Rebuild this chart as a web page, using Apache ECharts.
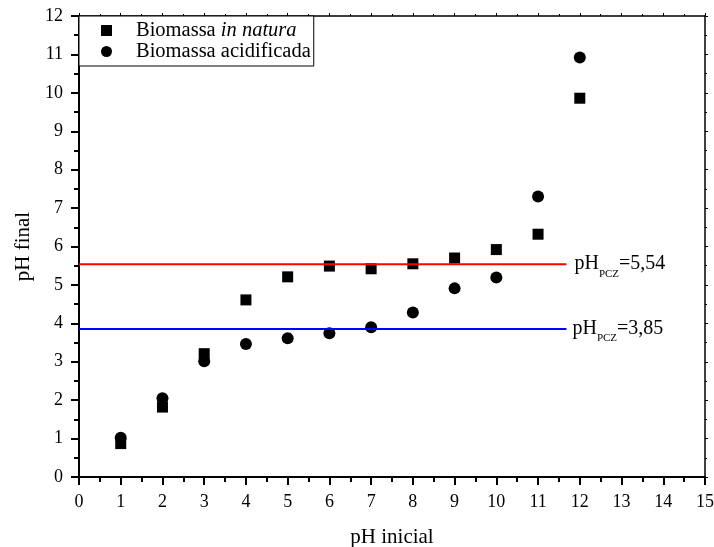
<!DOCTYPE html>
<html>
<head>
<meta charset="utf-8">
<script src="https://cdn.jsdelivr.net/npm/echarts@6/dist/echarts.min.js"></script>
<style>
  html, body { margin: 0; padding: 0; background: #fff; }
  #chart { width: 714px; height: 547px; }
</style>
</head>
<body>
<div id="chart"></div>
<script>
// Initial pH values tested
var phInicial = [1, 2, 3, 4, 5, 6, 7, 8, 9, 10, 11, 12];
// Final pH, raw biomass
var phFinalNatura = [0.87, 1.82, 3.21, 4.61, 5.21, 5.49, 5.42, 5.55, 5.70, 5.92, 6.32, 9.86];
// Final pH, acid-treated biomass
var phFinalAcidificada = [1.02, 2.05, 3.01, 3.46, 3.61, 3.74, 3.90, 4.28, 4.91, 5.19, 7.30, 10.92];
// Point of zero charge for each biomass
var pczNatura = 5.54;
var pczAcidificada = 3.85;
var pczLineEnd = 11.68;
var xTicks = { min: 0, max: 15, interval: 1 };
var yTicks = { min: 0, max: 12, interval: 1 };

var FONT = 'Liberation Serif';

function pairs(xs, ys) {
  return xs.map(function (x, i) { return [x, ys[i]]; });
}

function pczLabel(v) {
  return '{m|pH}{s|PCZ}{m|=' + v.toFixed(2).replace('.', ',') + '}';
}

var pczRich = {
  m: { fontFamily: FONT, fontSize: 20, color: '#000', lineHeight: 30, verticalAlign: 'middle' },
  s: { fontFamily: FONT, fontSize: 11, color: '#000', lineHeight: 15, verticalAlign: 'bottom' }
};

var chart = echarts.init(document.getElementById('chart'), null, { renderer: 'canvas' });

chart.setOption({
  animation: false,
  backgroundColor: '#fff',
  grid: { left: 79, right: 9, top: 16, bottom: 70, containLabel: false, outerBoundsMode: 'none' },
  legend: {
    orient: 'vertical',
    left: 79,
    top: 16,
    padding: [4, 3, 4, 22],
    itemGap: 0,
    itemWidth: 11,
    itemHeight: 11,
    borderColor: '#000',
    borderWidth: 1,
    backgroundColor: '#fff',
    data: ['Biomassa in natura', 'Biomassa acidificada'],
    formatter: function (name) {
      if (name === 'Biomassa in natura') return '{n|Biomassa }{i|in natura}';
      return '{n|' + name + '}';
    },
    textStyle: {
      padding: [0, 0, 0, 19],
      rich: {
        n: { fontFamily: FONT, fontSize: 20.5, color: '#000', lineHeight: 25 },
        i: { fontFamily: FONT, fontSize: 20.5, color: '#000', lineHeight: 25, fontStyle: 'italic' }
      }
    }
  },
  xAxis: [{
    type: 'value',
    position: 'bottom',
    min: xTicks.min, max: xTicks.max, interval: xTicks.interval,
    name: 'pH inicial',
    nameLocation: 'middle',
    nameGap: 50,
    nameTextStyle: { fontFamily: FONT, fontSize: 21, color: '#000' },
    axisLine: { show: true, onZero: false, lineStyle: { color: '#000', width: 2 } },
    axisTick: { show: true, inside: false, length: 8, lineStyle: { color: '#000', width: 2 } },
    minorTick: { show: true, splitNumber: 2, length: 5, lineStyle: { color: '#000', width: 2 } },
    axisLabel: { margin: 16, fontFamily: FONT, fontSize: 18, color: '#000' },
    splitLine: { show: false }
  }, {
    type: 'value',
    position: 'top',
    min: xTicks.min, max: xTicks.max, interval: xTicks.interval,
    axisLine: { show: true, onZero: false, lineStyle: { color: '#000', width: 1.5 } },
    axisTick: { show: true, inside: false, length: 3, lineStyle: { color: '#000', width: 1 } },
    minorTick: { show: true, splitNumber: 2, length: 2, lineStyle: { color: '#000', width: 1 } },
    axisLabel: { show: false },
    splitLine: { show: false }
  }],
  yAxis: [{
    type: 'value',
    position: 'left',
    min: yTicks.min, max: yTicks.max, interval: yTicks.interval,
    name: 'pH final',
    nameLocation: 'middle',
    nameGap: 38,
    nameTextStyle: { fontFamily: FONT, fontSize: 21, color: '#000' },
    axisLine: { show: true, onZero: false, lineStyle: { color: '#000', width: 2 } },
    axisTick: { show: true, inside: false, length: 8, lineStyle: { color: '#000', width: 2 } },
    minorTick: { show: true, splitNumber: 2, length: 5, lineStyle: { color: '#000', width: 2 } },
    axisLabel: { margin: 16, fontFamily: FONT, fontSize: 18, color: '#000' },
    splitLine: { show: false }
  }, {
    type: 'value',
    position: 'right',
    min: yTicks.min, max: yTicks.max, interval: yTicks.interval,
    axisLine: { show: true, onZero: false, lineStyle: { color: '#000', width: 1.5 } },
    axisTick: { show: true, inside: false, length: 3, lineStyle: { color: '#000', width: 1 } },
    minorTick: { show: true, splitNumber: 2, length: 2, lineStyle: { color: '#000', width: 1 } },
    axisLabel: { show: false },
    splitLine: { show: false }
  }],
  series: [{
    name: 'pcz-natura',
    type: 'line',
    data: [[0, pczNatura], [pczLineEnd, pczNatura]],
    showSymbol: false,
    symbol: 'none',
    lineStyle: { color: '#ff0000', width: 2 },
    silent: true,
    endLabel: { show: true, distance: 8, formatter: function () { return pczLabel(pczNatura); }, rich: pczRich }
  }, {
    name: 'pcz-acidificada',
    type: 'line',
    data: [[0, pczAcidificada], [pczLineEnd, pczAcidificada]],
    showSymbol: false,
    symbol: 'none',
    lineStyle: { color: '#0000ff', width: 2 },
    silent: true,
    endLabel: { show: true, distance: 6, formatter: function () { return pczLabel(pczAcidificada); }, rich: pczRich }
  }, {
    name: 'Biomassa in natura',
    type: 'scatter',
    symbol: 'rect',
    symbolSize: 11,
    itemStyle: { color: '#000', opacity: 1 },
    data: pairs(phInicial, phFinalNatura)
  }, {
    name: 'Biomassa acidificada',
    type: 'scatter',
    symbol: 'circle',
    symbolSize: 12,
    itemStyle: { color: '#000', opacity: 1 },
    data: pairs(phInicial, phFinalAcidificada)
  }]
});
</script>
</body>
</html>
